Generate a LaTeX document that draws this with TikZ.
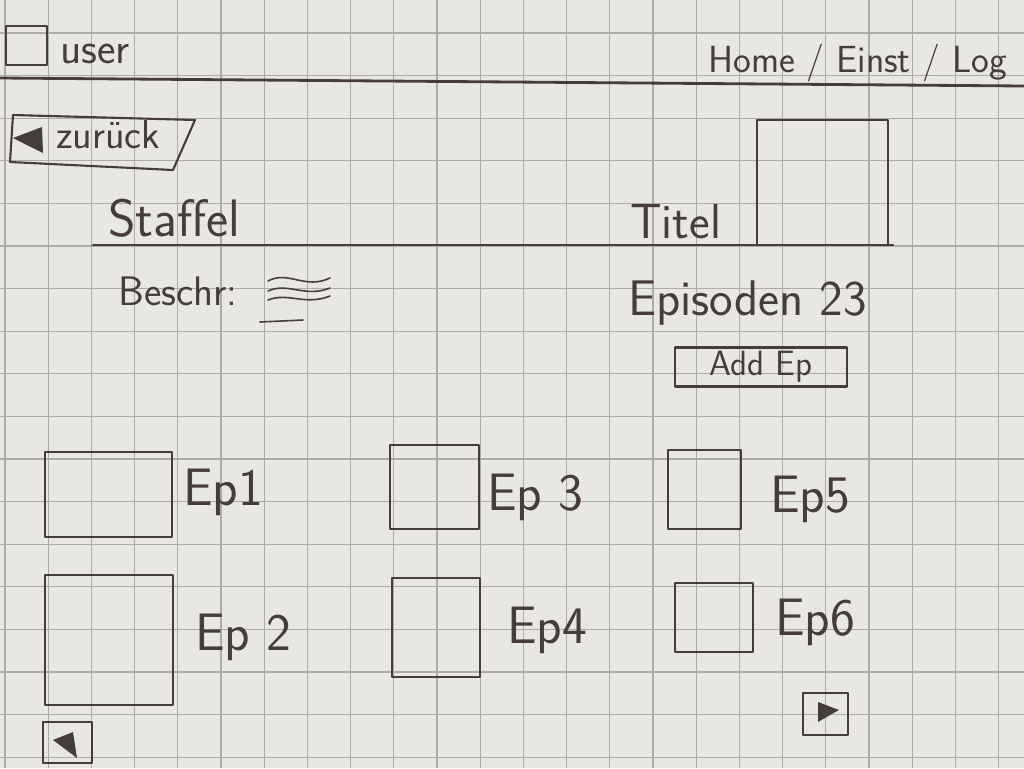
\documentclass[tikz,border=0pt]{standalone}
\usepackage{tikz}
\usetikzlibrary{positioning}

\definecolor{ink}{HTML}{463C3C}
\definecolor{paper}{HTML}{E9E7E3}
\definecolor{gridcol}{HTML}{ADABA8}
\newcommand{\handsize}[1]{\fontsize{#1}{#1}\selectfont}

\begin{document}
\begin{tikzpicture}[x=0.02cm,y=-0.02cm,
  inkline/.style={draw=ink, line width=1.2pt, line join=round, line cap=round},
  hand/.style={text=ink, font=\sffamily, inner sep=0pt},
  thumb/.style={inkline}]

% paper with grid
\useasboundingbox (0,0) rectangle (1024,768);
\fill[paper] (0,0) rectangle (1024,768);
\foreach \i in {0,...,23}
  \draw[gridcol, line width=0.6pt] ({5+43.2*\i},0) -- ({5+43.2*\i},768);
\foreach \j in {0,...,17}
  \draw[gridcol, line width=0.6pt] (0,{33+42.6*\j}) -- (1024,{33+42.6*\j});

% header bar
\draw[inkline] (6,26) rectangle (47,65);
\node[hand, anchor=base west, font=\sffamily\handsize{25}] (user) at (60,63) {user};
\node[hand, anchor=base west, font=\sffamily\handsize{21.5}] (navlinks) at (708,72) {Home / Einst / Log};
\draw[inkline, line width=1.6pt] (0,78) -- (1024,86);

% back button
\draw[inkline] (13,115) -- (195,120) -- (173,170) -- (10,162) -- cycle;
\fill[ink] (13,138) -- (42,127) -- (43,153) -- cycle;
\node[hand, anchor=base west, font=\sffamily\handsize{23}] (back) at (56,148) {zurück};

% season header with title image
\node[hand, anchor=base west, font=\sffamily\handsize{30}] (staffel) at (108,236) {Staffel};
\node[hand, anchor=base west, font=\sffamily\handsize{28}] (titel) at (630,238) {Titel};
\draw[inkline] (757,245) -- (757,120) -- (888,120) -- (888,245);
\draw[inkline] (93,245) -- (893,245);

% description
\node[hand, anchor=base west, font=\sffamily\handsize{23.5}] (beschr) at (118,305) {Beschr:};
\draw[inkline, line width=0.9pt] (268,281) .. controls (288,270) and (305,290) .. (330,278);
\draw[inkline, line width=0.9pt] (268,291) .. controls (288,282) and (305,298) .. (330,288);
\draw[inkline, line width=0.9pt] (268,300) .. controls (288,292) and (305,306) .. (330,296);
\draw[inkline, line width=0.9pt] (260,322) -- (303,320);

% episodes count and add button
\node[hand, anchor=base west, font=\sffamily\handsize{28.5}] (episodes) at (628,315) {Episoden 23};
\node[inkline, hand, font=\sffamily\handsize{20}, minimum width=3.44cm, minimum height=0.78cm]
  (addep) at (761,367) {Add Ep};

% episode thumbnails
\draw[thumb] (45,452) rectangle (172,537);
\node[hand, anchor=base west, font=\sffamily\handsize{30}] (ep1) at (183,505) {Ep1};
\draw[thumb] (45,575) rectangle (173,705);
\node[hand, anchor=base west, font=\sffamily\handsize{30}] (ep2) at (195,650) {Ep 2};
\draw[thumb] (390,445) rectangle (479,529);
\node[hand, anchor=base west, font=\sffamily\handsize{30}] (ep3) at (487,510) {Ep 3};
\draw[thumb] (392,578) rectangle (480,677);
\node[hand, anchor=base west, font=\sffamily\handsize{30}] (ep4) at (507,643) {Ep4};
\draw[thumb] (668,450) rectangle (741,529);
\node[hand, anchor=base west, font=\sffamily\handsize{30}] (ep5) at (770,512) {Ep5};
\draw[thumb] (675,583) rectangle (753,652);
\node[hand, anchor=base west, font=\sffamily\handsize{30}] (ep6) at (775,635) {Ep6};

% paging
\draw[inkline] (43,722) rectangle (92,763);
\fill[ink] (53,740) -- (73,732) -- (77,758) -- cycle;
\draw[inkline] (803,693) rectangle (848,735);
\fill[ink] (818,702) -- (839,710) -- (818,722) -- cycle;

\end{tikzpicture}
\end{document}
